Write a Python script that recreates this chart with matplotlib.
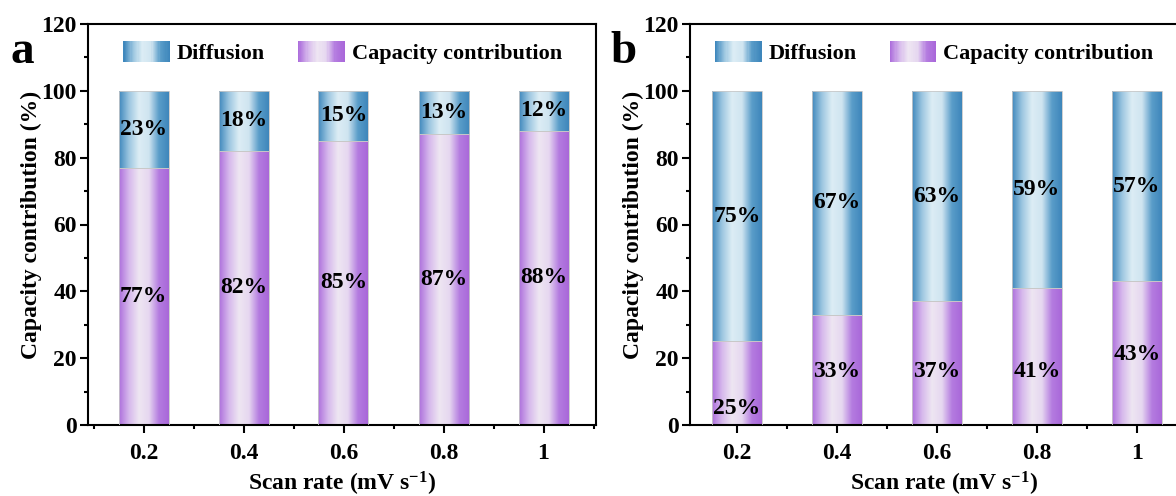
import matplotlib
matplotlib.use("Agg")
import matplotlib.pyplot as plt
import numpy as np
from matplotlib.patches import Rectangle
from matplotlib.legend_handler import HandlerBase
from matplotlib.colors import LinearSegmentedColormap
from matplotlib.ticker import MultipleLocator

plt.rcParams['font.family'] = ['Liberation Serif', 'DejaVu Serif']
plt.rcParams['font.weight'] = 'bold'
plt.rcParams['mathtext.fontset'] = 'custom'
plt.rcParams['mathtext.rm'] = 'Liberation Serif:bold'
plt.rcParams['mathtext.bf'] = 'Liberation Serif:bold'
plt.rcParams['mathtext.default'] = 'bf'

# data
scan_rates = [0.2, 0.4, 0.6, 0.8, 1.0]
tick_labels = ['0.2', '0.4', '0.6', '0.8', '1']
cap_a = [77, 82, 85, 87, 88]
cap_b = [25, 33, 37, 41, 43]
diff_a = [100 - v for v in cap_a]
diff_b = [100 - v for v in cap_b]
# label heights for capacity labels in panel b (placed by hand in original)
cap_label_y_b = [5, 16, 16, 16, 21]

purple = LinearSegmentedColormap.from_list(
    'purple', ['#ad6fdc', '#d6b8ec', '#eee6f2', '#e6d7f0', '#b47ce0', '#a967d9'])
blue = LinearSegmentedColormap.from_list(
    'blue', ['#3f88bd', '#9cc6e0', '#dcedf5', '#cfe4f0', '#5a9dc9', '#3e86bb'])

grad = np.linspace(0, 1, 256).reshape(1, -1)


class GradHandler(HandlerBase):
    def __init__(self, cmap):
        super().__init__()
        self.cmap = cmap

    def create_artists(self, legend, orig_handle, xdescent, ydescent,
                       width, height, fontsize, trans):
        n = 40
        arts = []
        for i in range(n):
            r = Rectangle((-xdescent + width * i / n, -ydescent), width / n * 1.05, height,
                          facecolor=self.cmap(i / (n - 1)), edgecolor='none', transform=trans)
            arts.append(r)
        return arts


def grad_bars(ax, x, h, bottom, cmap, width=0.1):
    bars = ax.bar(x, h, width, bottom=bottom, color='none', edgecolor='#c8c8c8',
                  linewidth=0.6, zorder=3)
    for b in bars:
        x0, y0 = b.get_x(), b.get_y()
        im = ax.imshow(grad, cmap=cmap, aspect='auto', zorder=2,
                       extent=[x0, x0 + b.get_width(), y0, y0 + b.get_height()])
        im.set_clip_path(b)
    return bars


def panel(ax, cap, diff, cap_label_y, letter, xlim, leg_x):
    grad_bars(ax, scan_rates, cap, 0, purple)
    grad_bars(ax, scan_rates, diff, cap, blue)
    for x, c, d, ly in zip(scan_rates, cap, diff, cap_label_y):
        ax.text(x, ly, f'{c}%', ha='center', va='center', fontsize=17, fontweight='bold', zorder=5)
        ax.text(x, c + d / 2, f'{d}%', ha='center', va='center', fontsize=17, fontweight='bold', zorder=5)
    ax.set_xlim(*xlim)
    ax.set_ylim(0, 120)
    ax.set_xticks(scan_rates)
    ax.set_xticklabels(tick_labels)
    ax.xaxis.set_minor_locator(MultipleLocator(0.1))
    ax.yaxis.set_major_locator(MultipleLocator(20))
    ax.yaxis.set_minor_locator(MultipleLocator(10))
    ax.tick_params(which='both', direction='out', top=False, right=False, labelsize=17,
                   width=1.5, pad=2)
    ax.tick_params(axis='x', which='major', pad=7)
    ax.tick_params(which='major', length=6)
    ax.tick_params(which='minor', length=3)
    for lab in ax.get_xticklabels() + ax.get_yticklabels():
        lab.set_fontweight('bold')
    for s in ax.spines.values():
        s.set_linewidth(1.5)
    ax.set_xlabel('Scan rate (mV s$^{-1}$)', fontsize=17, fontweight='bold', labelpad=4)
    ax.set_ylabel('Capacity contribution (%)', fontsize=17, fontweight='bold', labelpad=0)
    h1 = Rectangle((0, 0), 1, 1)
    h2 = Rectangle((0, 0), 1, 1)
    ax.legend([h1, h2], ['Diffusion', 'Capacity contribution'], ncol=2, frameon=False,
              handler_map={h1: GradHandler(blue), h2: GradHandler(purple)},
              loc='upper left', bbox_to_anchor=(leg_x, 0.985), borderpad=0,
              prop={'size': 16, 'weight': 'bold'}, handlelength=2.1, handleheight=1.1,
              handletextpad=0.3, columnspacing=1.5)
    ax.text(-0.13, 0.93, letter, transform=ax.transAxes, fontsize=34, fontweight='bold',
            ha='center', va='center')


fig = plt.figure(figsize=(11.76, 4.96), dpi=100)
W, H = 1176, 496
ax1 = fig.add_axes([88 / W, (H - 425) / H, 508 / W, 401 / H])
ax2 = fig.add_axes([690 / W, (H - 425) / H, 508 / W, 401 / H])

panel(ax1, cap_a, diff_a, [c / 2 for c in cap_a], 'a', (0.089, 1.105), 0.048)
panel(ax2, cap_b, diff_b, cap_label_y_b, 'b', (0.106, 1.122), 0.027)

fig.savefig('out.png', dpi=100)
